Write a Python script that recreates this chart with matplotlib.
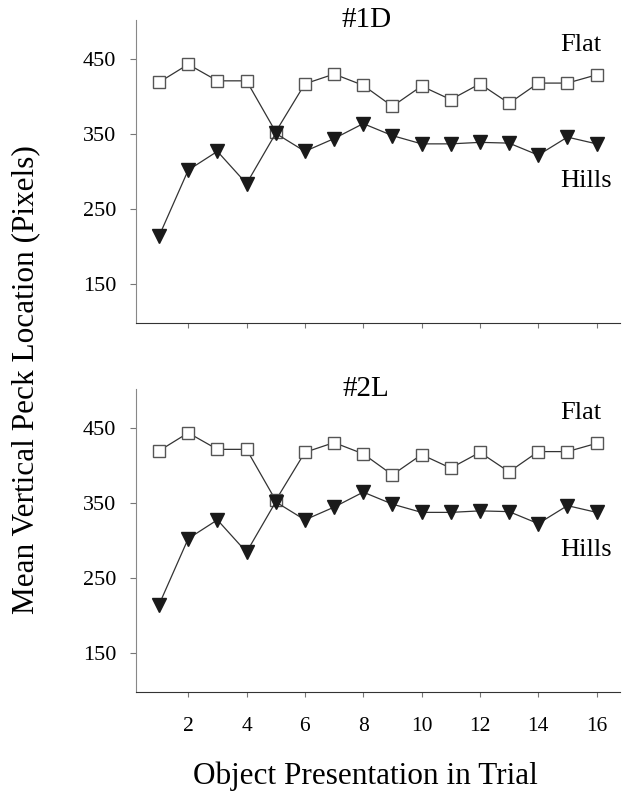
import numpy as np
import matplotlib.pyplot as plt

plt.rcParams['font.family'] = ['Liberation Serif', 'DejaVu Serif']

# data
trials = list(range(1, 17))
flat = [419, 443, 421, 421, 353, 417, 430, 415, 387, 414, 396, 417, 391, 418, 418, 429]
hills = [214, 302, 327, 284, 351, 327, 344, 364, 348, 337, 337, 339, 338, 322, 346, 337]
panels = ['#1D', '#2L']
y_ticks = [150, 250, 350, 450]
x_ticks = [2, 4, 6, 8, 10, 12, 14, 16]

fig = plt.figure(figsize=(6.3, 8.02), dpi=100)
ax_top = fig.add_axes([0.2154, 0.597, 0.7686, 0.378])
ax_bot = fig.add_axes([0.2154, 0.1375, 0.7686, 0.378])

for ax, name in zip([ax_top, ax_bot], panels):
    ax.plot(trials, flat, '-', color='#333333', lw=0.9, marker='s', ms=8.8,
            mfc='white', mec='#555555', mew=1.0, zorder=3)
    ax.plot(trials, hills, '-', color='#333333', lw=0.9, marker='v', ms=10,
            mfc='#1a1a1a', mec='#1a1a1a', zorder=4)
    ax.set_xlim(0.2, 16.8)
    ax.set_ylim(98, 502)
    ax.set_yticks(y_ticks)
    ax.set_xticks(x_ticks)
    ax.spines['top'].set_visible(False)
    ax.spines['right'].set_visible(False)
    ax.spines['left'].set_color('#888888')
    ax.spines['bottom'].set_color('#333333')
    ax.tick_params(axis='y', length=4, color='#777777', labelsize=16, pad=10)
    ax.tick_params(axis='x', length=3.5, color='#777777', labelsize=15.5, pad=15)
    ax.text(8.1, 502, name, fontsize=21, ha='center', va='center')
    ax.text(14.75, 469, 'Flat', fontsize=19, ha='left', va='center')
    ax.text(14.75, 287, 'Hills', fontsize=19, ha='left', va='center')

ax_top.tick_params(axis='x', labelbottom=False)

fig.text(26 / 630, 1 - 380 / 802, 'Mean Vertical Peck Location (Pixels)',
         rotation=90, fontsize=22.5, ha='center', va='center')
fig.text(365.5 / 630, 1 - 776 / 802, 'Object Presentation in Trial',
         fontsize=22.5, ha='center', va='center')

fig.savefig('out.png', dpi=100)
